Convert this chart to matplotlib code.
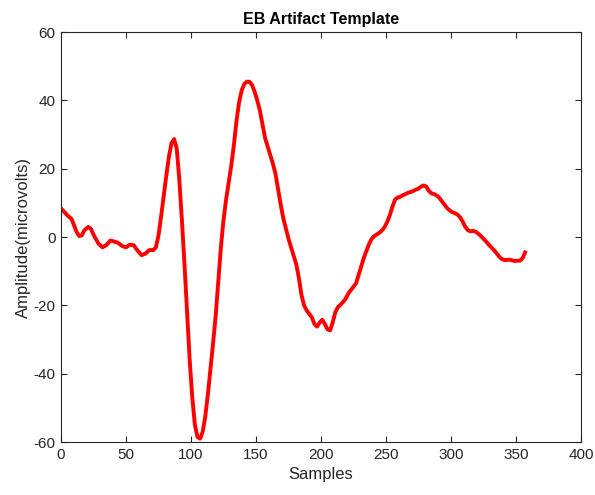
import matplotlib.pyplot as plt

# EB artifact template, sampled every couple of samples (amplitude in microvolts)
samples = [1, 3, 5, 8, 10, 12, 14, 16, 18, 21, 23, 26, 29, 32, 35, 38, 41, 44, 47, 50,
           53, 56, 59, 62, 65, 68, 71, 73, 75, 77, 79, 81, 83, 85, 87, 89, 91, 93, 95, 97,
           99, 101, 103, 105, 107, 109, 111, 113, 115, 117, 119, 121, 123, 125, 127, 129,
           131, 133, 135, 137, 139, 141, 143, 145, 147, 149, 151, 153, 155, 157, 159, 161,
           163, 165, 167, 169, 171, 173, 175, 177, 179, 181, 183, 185, 187, 189, 191, 193,
           195, 197, 199, 201, 203, 205, 207, 209, 211, 213, 215, 217, 219, 221, 223, 225,
           227, 229, 231, 233, 235, 237, 239, 241, 243, 245, 247, 249, 251, 253, 255, 257,
           259, 261, 263, 265, 267, 269, 271, 273, 275, 277, 279, 281, 283, 285, 287, 289,
           291, 293, 295, 297, 299, 301, 303, 305, 307, 309, 311, 313, 315, 317, 319, 321,
           323, 325, 327, 329, 331, 333, 335, 337, 339, 341, 343, 345, 347, 349, 351, 353,
           355, 357]
amplitude = [8.0, 7.2, 6.3, 5.4, 3.5, 1.5, 0.3, 0.5, 2.0, 3.0, 2.4, 0.0, -2.0, -3.0, -2.3,
             -1.0, -1.3, -1.7, -2.6, -3.0, -2.2, -2.4, -4.0, -5.3, -4.8, -3.8, -3.8, -3.0,
             0.5, 6.0, 12.0, 18.0, 23.5, 27.5, 28.7, 26.0, 17.0, 5.0, -8.0, -22.0, -36.0,
             -47.0, -55.0, -58.5, -59.0, -57.0, -52.5, -46.0, -38.5, -31.0, -23.0, -13.0,
             -3.0, 5.0, 11.0, 16.0, 21.0, 27.0, 34.0, 39.5, 43.0, 44.8, 45.5, 45.5, 44.5,
             42.5, 40.0, 37.0, 33.0, 29.0, 26.5, 24.0, 21.5, 18.5, 14.0, 9.5, 5.5, 2.5, -0.5,
             -3.0, -5.5, -8.0, -12.0, -17.0, -20.0, -21.5, -22.5, -23.5, -25.5, -26.2, -25.0,
             -24.2, -25.5, -27.0, -27.3, -25.0, -22.0, -20.5, -19.8, -19.0, -18.0, -16.5,
             -15.5, -14.5, -13.5, -11.0, -8.5, -6.0, -4.0, -2.0, -0.5, 0.3, 0.8, 1.3, 2.0,
             3.0, 4.5, 6.5, 9.0, 11.0, 11.6, 11.8, 12.3, 12.6, 13.0, 13.2, 13.5, 13.9, 14.2,
             14.8, 15.1, 14.8, 13.5, 12.8, 12.6, 12.2, 11.5, 10.5, 9.5, 8.5, 7.8, 7.3, 7.0,
             6.6, 5.8, 4.5, 3.0, 2.0, 1.7, 1.8, 1.6, 1.0, 0.3, -0.5, -1.3, -2.2, -3.0, -3.8,
             -4.7, -5.7, -6.4, -6.7, -6.7, -6.6, -6.8, -7.0, -6.9, -6.9, -6.2, -4.5]

plt.rcParams['font.family'] = ['Liberation Sans', 'DejaVu Sans']
plt.rcParams['axes.unicode_minus'] = False
axis_color = '#262626'

fig = plt.figure(figsize=(5.95, 4.95), dpi=100)
ax = fig.add_axes([0.1025, 0.107, 0.874, 0.828])
ax.plot(samples, amplitude, color='red', linewidth=2.8, solid_joinstyle='round')

ax.set_xlim(0, 400)
ax.set_ylim(-60, 60)
ax.set_xticks(range(0, 401, 50))
ax.set_yticks(range(-60, 61, 20))
ax.tick_params(direction='in', top=True, right=True, length=4, width=0.8,
               labelsize=11, colors=axis_color, pad=4)
for spine in ax.spines.values():
    spine.set_color(axis_color)
    spine.set_linewidth(0.8)

ax.set_title('EB Artifact Template', fontsize=11.5, fontweight='bold', pad=6)
ax.set_xlabel('Samples', fontsize=12, color=axis_color, labelpad=4)
ax.set_ylabel('Amplitude(microvolts)', fontsize=12, color=axis_color, labelpad=2)

fig.savefig('out.png', dpi=100)
